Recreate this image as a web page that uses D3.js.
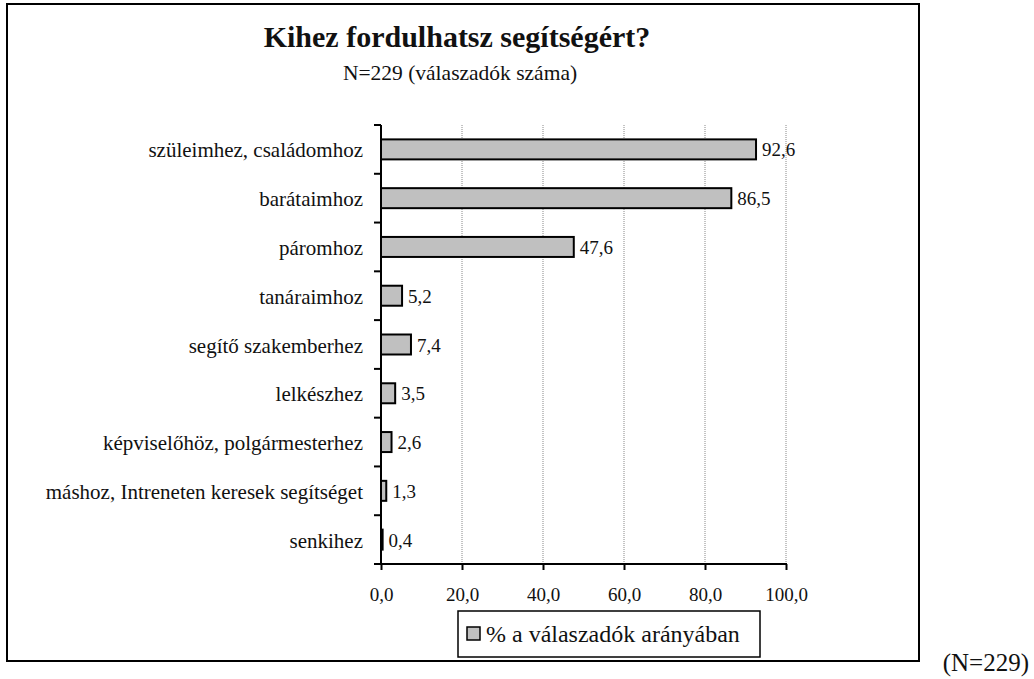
<!DOCTYPE html>
<html><head><meta charset="utf-8">
<script src="https://cdn.jsdelivr.net/npm/d3@7"></script>
<style>body{margin:0;background:#fff}svg{display:block}text{font-family:"Liberation Serif","DejaVu Serif",serif;fill:#111}</style>
</head><body>
<svg id="c" width="1034" height="679"></svg>
<script>
const categories = ["szüleimhez, családomhoz","barátaimhoz","páromhoz","tanáraimhoz","segítő szakemberhez","lelkészhez","képviselőhöz, polgármesterhez","máshoz, Intreneten keresek segítséget","senkihez"];
const values = [92.6,86.5,47.6,5.2,7.4,3.5,2.6,1.3,0.4];
const xTicks = [0,20,40,60,80,100];
const title = "Kihez fordulhatsz segítségért?";
const subtitle = "N=229 (válaszadók száma)";
const legendLabel = "% a válaszadók arányában";
const note = "(N=229)";

const svg = d3.select("#c");
const fmt = v => d3.format(".1f")(v).replace(".", ",");
const x = d3.scaleLinear().domain([0,100]).range([381,786]);
const y = d3.scaleBand().domain(categories).range([125,564]).paddingInner(0.59).paddingOuter(0.295);

// frame
svg.append("rect").attr("x",7).attr("y",4).attr("width",912).attr("height",657).attr("fill","none").attr("stroke","#000").attr("stroke-width",2);

svg.append("text").attr("x",457).attr("y",47).attr("text-anchor","middle").attr("font-size",30).attr("font-weight","bold").text(title);
svg.append("text").attr("x",460).attr("y",80).attr("text-anchor","middle").attr("font-size",21.5).text(subtitle);

// grid
svg.append("g").selectAll("line").data(xTicks.slice(1)).join("line")
  .attr("x1",d=>x(d)).attr("x2",d=>x(d)).attr("y1",125).attr("y2",564)
  .attr("stroke","#888").attr("stroke-width",1).attr("stroke-dasharray","1,1");

// bars
svg.append("g").selectAll("rect").data(values).join("rect")
  .attr("x",x(0)).attr("y",(d,i)=>y(categories[i]))
  .attr("width",d=>x(d)-x(0)).attr("height",y.bandwidth())
  .attr("fill","#c0c0c0").attr("stroke","#000").attr("stroke-width",2);

svg.append("g").selectAll("text").data(values).join("text")
  .attr("x",d=>x(d)+6).attr("y",(d,i)=>y(categories[i])+y.bandwidth()/2+7)
  .attr("font-size",19).text(d=>fmt(d));

// y axis
const step = y.step();
const yAxis = svg.append("g");
yAxis.append("line").attr("x1",381).attr("x2",381).attr("y1",125).attr("y2",565).attr("stroke","#000").attr("stroke-width",2);
yAxis.selectAll("line.t").data(d3.range(categories.length+1)).join("line").attr("class","t")
  .attr("x1",374).attr("x2",381).attr("y1",i=>125+i*step).attr("y2",i=>125+i*step).attr("stroke","#000").attr("stroke-width",2);
yAxis.selectAll("text").data(categories).join("text")
  .attr("x",363).attr("y",d=>y(d)+y.bandwidth()/2+8).attr("text-anchor","end").attr("font-size",21).text(d=>d);

// x axis
const xAxis = svg.append("g").attr("transform","translate(0,564)")
  .call(d3.axisBottom(x).tickValues(xTicks).tickSize(6).tickPadding(18).tickFormat(fmt));
xAxis.select(".domain").attr("stroke","#000").attr("stroke-width",2).attr("d","M380,0H787");
xAxis.selectAll(".tick line").attr("stroke","#000").attr("stroke-width",2);
xAxis.selectAll(".tick text").attr("font-size",19).attr("font-family","Liberation Serif").attr("fill","#111");

// legend
svg.append("rect").attr("x",458).attr("y",611).attr("width",302).attr("height",46).attr("fill","#fff").attr("stroke","#000").attr("stroke-width",1.5);
svg.append("rect").attr("x",467).attr("y",627).attr("width",13).attr("height",13).attr("fill","#c0c0c0").attr("stroke","#000").attr("stroke-width",1.5);
svg.append("text").attr("x",486).attr("y",642).attr("font-size",24).text(legendLabel);

svg.append("text").attr("x",1029).attr("y",671).attr("text-anchor","end").attr("font-size",25).text(note);
</script>
</body></html>
